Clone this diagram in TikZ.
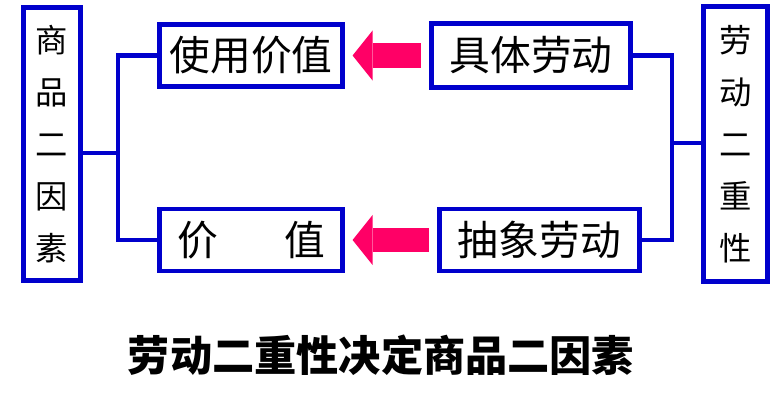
\documentclass[tikz,border=0pt]{standalone}
\usepackage{fontspec}
\setmainfont{Noto Sans CJK SC}
\usetikzlibrary{calc, arrows.meta}
\definecolor{boxblue}{RGB}{0,0,204}
\definecolor{arrowpink}{RGB}{255,0,102}

\begin{document}
\begin{tikzpicture}[x=0.025cm, y=-0.025cm,
  mainbox/.style={draw=boxblue, line width=3.5pt, minimum height=1.55cm,
    inner sep=0pt, font=\fontsize{29}{35}\selectfont},
  sidebox/.style={draw=boxblue, line width=3.5pt, inner sep=0pt, align=center,
    font=\fontsize{23}{37}\selectfont},
  bracket/.style={draw=boxblue, line width=3.5pt, line join=miter},
  bigarrow/.style={draw=arrowpink, line width=0.6cm,
    -{Triangle[length=0.5cm, width=1.25cm, line width=0pt]},
    shorten <=0.21cm, shorten >=0.19cm},
]
  \useasboundingbox (0,0) rectangle (782,400);
  % 两侧竖框
  \node[sidebox, minimum width=1.425cm, minimum height=6.825cm] (goods) at (52,144)
    {商\\品\\二\\因\\素};
  \node[sidebox, minimum width=1.6cm, minimum height=6.875cm] (labour) at (735.5,144)
    {劳\\动\\二\\重\\性};
  % 中间四个框
  \node[mainbox, minimum width=4.575cm] (use) at (251,55.5) {使用价值};
  \node[mainbox, minimum width=4.575cm] (value) at (251,240) {价\hspace{47pt}值};
  \node[mainbox, minimum width=4.975cm, minimum height=1.6cm] (concrete) at (531,55.5) {具体劳动};
  \node[mainbox, minimum width=5cm] (abstract) at (539.5,240) {抽象劳动};
  % 括线
  \coordinate (lj) at (118,153);
  \coordinate (rj) at (672,143);
  \draw[bracket] (goods.east |- lj) -- (lj);
  \draw[bracket] (use.west) -- (use.west -| lj) -- (value.west -| lj) -- (value.west);
  \draw[bracket] (concrete.east) -- (concrete.east -| rj) -- (abstract.east -| rj) -- (abstract.east);
  \draw[bracket] (rj) -- (rj -| labour.west);
  % 决定关系
  \draw[bigarrow] (concrete.west) -- (use.east);
  \draw[bigarrow] (abstract.west) -- (value.east);
  \node[font=\fontsize{30}{36}\selectfont\bfseries] (title) at (381,355)
    {劳动二重性决定商品二因素};
\end{tikzpicture}
\end{document}
